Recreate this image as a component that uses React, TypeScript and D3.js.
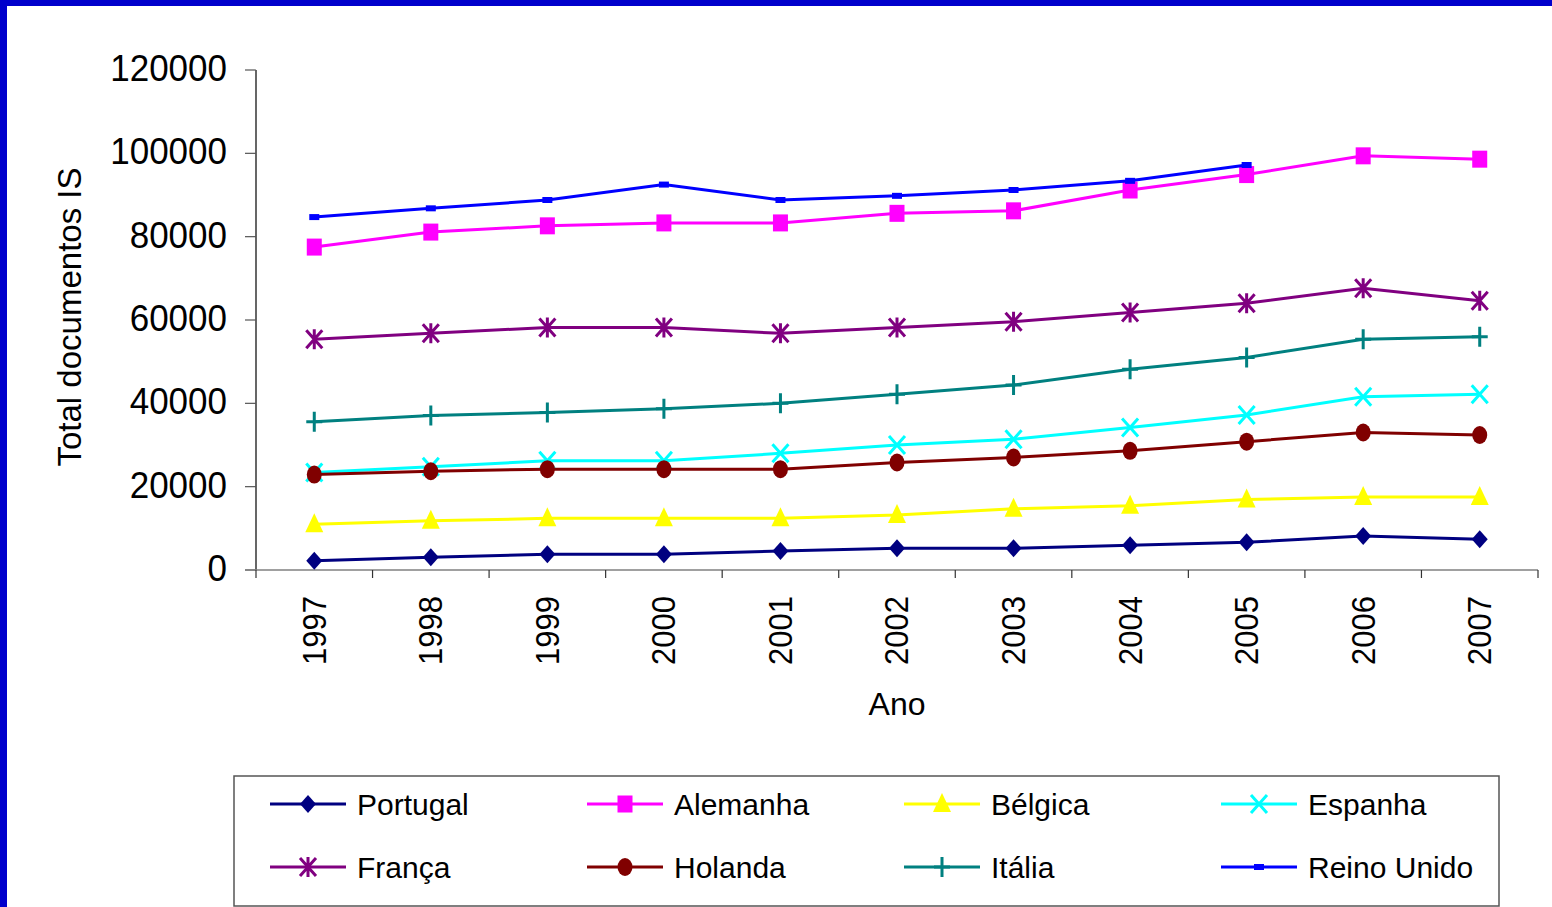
import React from "react";
import * as d3 from "d3";

const years = ["1997", "1998", "1999", "2000", "2001", "2002", "2003", "2004", "2005", "2006", "2007"];
const yTicks = [0, 20000, 40000, 60000, 80000, 100000, 120000];

const portugal = [2240, 3040, 3760, 3760, 4560, 5200, 5200, 5920, 6640, 8160, 7360];
const alemanha = [77500, 81100, 82600, 83300, 83300, 85600, 86200, 91200, 94900, 99400, 98600];
const belgica = [11000, 11800, 12400, 12400, 12400, 13200, 14700, 15400, 16900, 17500, 17500];
const espanha = [23400, 24800, 26200, 26200, 28000, 30000, 31400, 34200, 37200, 41600, 42200];
const franca = [55400, 56800, 58200, 58200, 56800, 58200, 59600, 61800, 64000, 67600, 64600];
const holanda = [22900, 23700, 24200, 24200, 24200, 25800, 27000, 28600, 30800, 33000, 32400];
const italia = [35600, 37100, 37800, 38700, 40000, 42200, 44400, 48200, 51000, 55400, 56000];
const reinoUnido = [84700, 86800, 88800, 92500, 88800, 89800, 91200, 93400, 97200, null, null];

type Marker = "diamond" | "square" | "triangle" | "x" | "asterisk" | "circle" | "plus" | "smallrect";

const seriesNames = ["Portugal", "Alemanha", "Bélgica", "Espanha", "França", "Holanda", "Itália", "Reino Unido"];
const seriesValues: (number | null)[][] = [portugal, alemanha, belgica, espanha, franca, holanda, italia, reinoUnido];
const seriesColors = ["#000080", "#FF00FF", "#FFFF00", "#00FFFF", "#800080", "#800000", "#008080", "#0000FF"];
const seriesMarkers: Marker[] = ["diamond", "square", "triangle", "x", "asterisk", "circle", "plus", "smallrect"];

const W = 1552;
const H = 907;
const FONT = "'Liberation Sans', Arial, sans-serif";

function MarkerShape({ type, x, y, color }: { type: Marker; x: number; y: number; color: string }) {
  switch (type) {
    case "diamond":
      return <path d={`M${x},${y - 9} L${x + 8},${y} L${x},${y + 9} L${x - 8},${y} Z`} fill={color} />;
    case "square":
      return <rect x={x - 7.5} y={y - 8.5} width={15} height={17} fill={color} />;
    case "triangle":
      return <path d={`M${x},${y - 11} L${x + 9},${y + 8} L${x - 9},${y + 8} Z`} fill={color} />;
    case "x":
      return (
        <path
          d={`M${x - 8},${y - 9} L${x + 8},${y + 9} M${x + 8},${y - 9} L${x - 8},${y + 9}`}
          stroke={color}
          strokeWidth={3}
        />
      );
    case "asterisk":
      return (
        <path
          d={`M${x - 8},${y - 9} L${x + 8},${y + 9} M${x + 8},${y - 9} L${x - 8},${y + 9} M${x},${y - 10} L${x},${y + 10}`}
          stroke={color}
          strokeWidth={3}
        />
      );
    case "circle":
      return <ellipse cx={x} cy={y} rx={7.5} ry={9} fill={color} />;
    case "plus":
      return (
        <path
          d={`M${x - 8},${y} L${x + 8},${y} M${x},${y - 10} L${x},${y + 10}`}
          stroke={color}
          strokeWidth={3}
        />
      );
    case "smallrect":
      return <rect x={x - 5} y={y - 3} width={10} height={6} fill={color} />;
  }
}

export default function App() {
  const x = d3.scaleBand<string>().domain(years).range([256, 1538]);
  const y = d3.scaleLinear().domain([0, 120000]).range([570, 70]);
  const cx = (yr: string) => (x(yr) as number) + x.bandwidth() / 2;

  const line = d3
    .line<number | null>()
    .defined((d) => d !== null)
    .x((_, i) => cx(years[i]))
    .y((d) => y(d as number));

  const boundaries = years.map((yr) => x(yr) as number).concat([x.range()[1]]);

  const legendX0 = 270;
  const legendColW = 317;
  const legendRowY = [804, 867];

  return (
    <svg
      width={W}
      height={H}
      style={{ position: "absolute", left: 0, top: 0, background: "#fff" }}
      fontFamily={FONT}
    >
      <rect x={0} y={0} width={W} height={H} fill="#fff" />
      {/* blue frame */}
      <rect x={0} y={0} width={W} height={6} fill="#0000CC" />
      <rect x={0} y={0} width={7} height={H} fill="#0000CC" />

      {/* y axis */}
      <line x1={256} y1={70} x2={256} y2={570} stroke="#000" strokeWidth={1.2} />
      {yTicks.map((t) => (
        <g key={t}>
          <line x1={245} y1={y(t)} x2={256} y2={y(t)} stroke="#555" strokeWidth={1.2} />
          <text
            transform={`translate(227,${y(t) - 2}) scale(1,1.08)`}
            textAnchor="end"
            dominantBaseline="central"
            fontSize={35}
            fill="#000"
          >
            {t}
          </text>
        </g>
      ))}

      {/* x axis */}
      <line x1={245} y1={570} x2={1538} y2={570} stroke="#808080" strokeWidth={1.5} />
      {boundaries.map((b, i) => (
        <line key={i} x1={b} y1={570} x2={b} y2={578} stroke="#333" strokeWidth={1.2} />
      ))}
      {years.map((yr) => (
        <text
          key={yr}
          transform={`translate(${cx(yr)},596) rotate(-90) scale(1,1.08)`}
          textAnchor="end"
          dominantBaseline="central"
          fontSize={31}
          fill="#000"
        >
          {yr}
        </text>
      ))}

      {/* axis titles */}
      <text x={897} y={715} textAnchor="middle" fontSize={32} fill="#000">
        Ano
      </text>
      <text
        transform="translate(69,317) rotate(-90)"
        textAnchor="middle"
        dominantBaseline="central"
        fontSize={33}
        fill="#000"
      >
        Total documentos IS
      </text>

      {/* series */}
      {seriesNames.map((name, si) => (
        <g key={name}>
          <path d={line(seriesValues[si]) || ""} fill="none" stroke={seriesColors[si]} strokeWidth={3} />
          {seriesValues[si].map((v, i) =>
            v === null ? null : (
              <MarkerShape key={i} type={seriesMarkers[si]} x={cx(years[i])} y={y(v)} color={seriesColors[si]} />
            )
          )}
        </g>
      ))}

      {/* legend */}
      <rect x={234} y={776} width={1265} height={130} fill="#fff" stroke="#555" strokeWidth={1.5} />
      {seriesNames.map((name, si) => {
        const col = si % 4;
        const row = Math.floor(si / 4);
        const lx = legendX0 + col * legendColW;
        const ly = legendRowY[row];
        return (
          <g key={name}>
            <line x1={lx} y1={ly} x2={lx + 76} y2={ly} stroke={seriesColors[si]} strokeWidth={3} />
            <MarkerShape type={seriesMarkers[si]} x={lx + 38} y={ly} color={seriesColors[si]} />
            <text x={lx + 87} y={ly} dominantBaseline="central" fontSize={30} fill="#000">
              {name}
            </text>
          </g>
        );
      })}
    </svg>
  );
}
